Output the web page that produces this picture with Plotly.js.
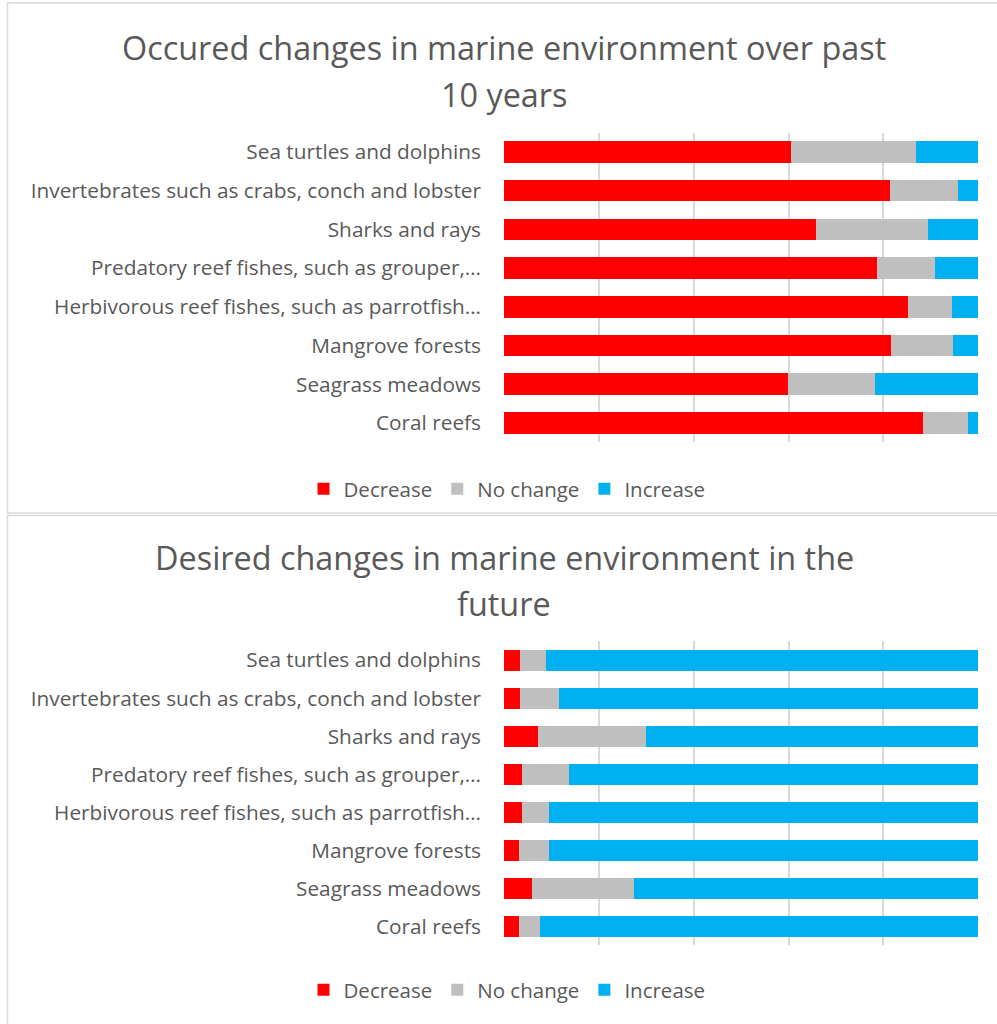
<!DOCTYPE html>
<html>
<head>
<meta charset="utf-8">
<script src="https://cdn.plot.ly/plotly-3.0.1.min.js"></script>
<style>
  html, body { margin: 0; padding: 0; background: #ffffff; }
  #chart { width: 997px; height: 1024px; }
</style>
</head>
<body>
<div id="chart"></div>
<script>
// Habitat / species groups, listed top to bottom
const categories = [
  "Sea turtles and dolphins",
  "Invertebrates such as crabs, conch and lobster",
  "Sharks and rays",
  "Predatory reef fishes, such as grouper,…",
  "Herbivorous reef fishes, such as parrotfish…",
  "Mangrove forests",
  "Seagrass meadows",
  "Coral reefs"
];

// Share of respondents (%) – changes seen over the past 10 years
const pastDecrease = [60.5, 81.4, 65.8, 78.7, 85.1, 81.6, 59.9, 88.3];
const pastNoChange = [26.4, 14.3, 23.5, 12.2, 9.3, 13.1, 18.3, 9.5];
const pastIncrease = [13.1, 4.3, 10.7, 9.1, 5.6, 5.3, 21.8, 2.2];

// Share of respondents (%) – changes wished for in the future
const futureDecrease = [3.3, 3.3, 7.2, 3.8, 3.8, 3.1, 5.9, 3.1];
const futureNoChange = [5.5, 8.4, 22.8, 9.9, 5.6, 6.4, 21.6, 4.4];
const futureIncrease = [91.2, 88.3, 70.0, 86.3, 90.6, 90.5, 72.5, 92.5];

const seriesNames = ["Decrease", "No change", "Increase"];
const seriesColors = ["#FF0000", "#BFBFBF", "#00B0F0"];

const W = 997, H = 1024;
const px = x => x / W;
const py = y => 1 - y / H;

const FONT = "Open Sans, Noto Sans, sans-serif";
const TEXT = "#595959";
const GRID = "#D9D9D9";

function barTrace(i, values, xa, ya, legendId) {
  return {
    type: "bar",
    orientation: "h",
    name: seriesNames[i],
    x: values,
    y: categories,
    xaxis: xa,
    yaxis: ya,
    legend: legendId,
    marker: { color: seriesColors[i], line: { width: 0 } },
    hoverinfo: "x+y+name"
  };
}

const data = [
  barTrace(0, pastDecrease, "x", "y", "legend"),
  barTrace(1, pastNoChange, "x", "y", "legend"),
  barTrace(2, pastIncrease, "x", "y", "legend"),
  barTrace(0, futureDecrease, "x2", "y2", "legend2"),
  barTrace(1, futureNoChange, "x2", "y2", "legend2"),
  barTrace(2, futureIncrease, "x2", "y2", "legend2")
];

const xCommon = {
  range: [0, 100],
  tickvals: [0, 20, 40, 60, 80, 100],
  showticklabels: false,
  showgrid: true,
  gridcolor: GRID,
  gridwidth: 1.6,
  zeroline: false,
  showline: false,
  ticks: "",
  fixedrange: true
};
const yCommon = {
  type: "category",
  autorange: "reversed",
  showgrid: false,
  zeroline: false,
  showline: false,
  ticks: "",
  ticklabelstandoff: 22,
  tickfont: { family: FONT, size: 20.8, color: TEXT },
  fixedrange: true
};

const legendCommon = {
  orientation: "h",
  xanchor: "center",
  yanchor: "middle",
  font: { family: FONT, size: 20.5, color: TEXT },
  bgcolor: "rgba(0,0,0,0)",
  itemwidth: 30,
  traceorder: "normal",
  itemclick: false,
  itemdoubleclick: false
};

function titleLine(text, yPix) {
  return {
    text: text,
    xref: "paper", yref: "paper",
    x: px(504), y: py(yPix),
    xanchor: "center", yanchor: "middle",
    showarrow: false,
    font: { family: FONT, size: 32.4, color: TEXT }
  };
}

const layout = {
  width: W,
  height: H,
  margin: { l: 0, r: 0, t: 0, b: 0 },
  paper_bgcolor: "#ffffff",
  plot_bgcolor: "#ffffff",
  barmode: "stack",
  bargap: 0.44,
  showlegend: true,
  xaxis: Object.assign({}, xCommon, { domain: [px(504), px(978.3)], anchor: "y" }),
  yaxis: Object.assign({}, yCommon, { domain: [py(442.4), py(132.5)], anchor: "x" }),
  xaxis2: Object.assign({}, xCommon, { domain: [px(504), px(978.3)], anchor: "y2" }),
  yaxis2: Object.assign({}, yCommon, { domain: [py(945.3), py(641.2)], anchor: "x2" }),
  legend: Object.assign({}, legendCommon, { x: px(507), y: py(489) }),
  legend2: Object.assign({}, legendCommon, { x: px(507), y: py(990) }),
  annotations: [
    titleLine("Occured changes in marine environment over past", 47),
    titleLine("10 years", 94),
    titleLine("Desired changes in marine environment in the", 557),
    titleLine("future", 603)
  ],
  shapes: [
    { type: "rect", xref: "paper", yref: "paper", layer: "below",
      x0: px(7.5), x1: px(1010), y0: py(513), y1: py(3),
      line: { color: GRID, width: 1.5 }, fillcolor: "rgba(0,0,0,0)" },
    { type: "rect", xref: "paper", yref: "paper", layer: "below",
      x0: px(7.5), x1: px(1010), y0: py(1040), y1: py(515.5),
      line: { color: GRID, width: 1.5 }, fillcolor: "rgba(0,0,0,0)" }
  ]
};

Plotly.newPlot("chart", data, layout, { displayModeBar: false, responsive: false });
</script>
</body>
</html>
